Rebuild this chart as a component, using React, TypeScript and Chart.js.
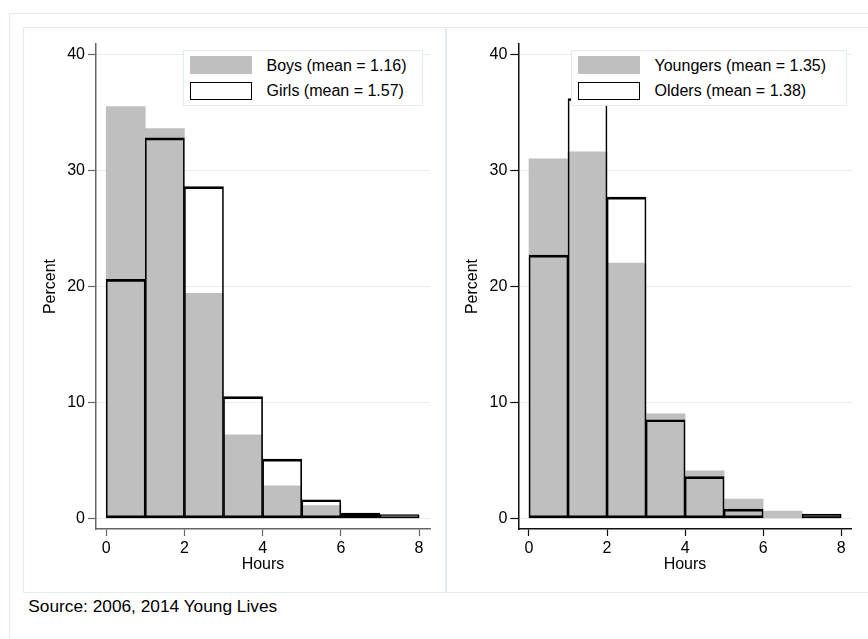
import React, { useEffect, useRef } from "react";
import { Chart, registerables } from "chart.js";

Chart.register(...registerables);

// ---- data ----
const binCenters = [0.5, 1.5, 2.5, 3.5, 4.5, 5.5, 6.5, 7.5];
const boys = [35.5, 33.6, 19.4, 7.2, 2.8, 1.1, 0.35, 0.2];
const girls = [20.6, 32.8, 28.6, 10.5, 5.1, 1.6, 0.45, 0.33];
const youngers = [31.0, 31.6, 22.0, 9.0, 4.1, 1.65, 0.63, 0.2];
const olders = [22.7, 36.2, 27.7, 8.5, 3.6, 0.8, 0.0, 0.36];
const xTicks = [0, 2, 4, 6, 8];
const yTicks = [0, 10, 20, 30, 40];
const leftLabels = ["Boys (mean = 1.16)", "Girls (mean = 1.57)"];
const rightLabels = ["Youngers (mean = 1.35)", "Olders (mean = 1.38)"];

const FONT = "'Liberation Sans', Arial, Helvetica, sans-serif";
const GRAY = "#bfbfbf";
const FRAME = "#e3ecef";
const GRID = "#e6eef0";

type PanelProps = {
  left: number;
  width: number;
  gray: number[];
  outline: number[];
  labels: string[];
  axisColor: string;
  yAxisWidth: number;
  padRight: number;
  xMin: number;
  xMax: number;
  yTitlePad: number;
  legendLeft: number;
  legendWidth: number;
};

function pts(vals: number[]) {
  return binCenters.map((c, i) => ({ x: c, y: vals[i] }));
}

function Panel(p: PanelProps) {
  const ref = useRef<HTMLCanvasElement | null>(null);
  useEffect(() => {
    if (!ref.current) return;
    const font = { family: FONT, size: 16 };
    const chart = new Chart(ref.current, {
      type: "bar",
      data: {
        datasets: [
          {
            label: p.labels[0],
            data: pts(p.gray),
            backgroundColor: GRAY,
            borderWidth: 0,
            order: 2,
            grouped: false,
            barPercentage: 1,
            categoryPercentage: 1,
          } as any,
          {
            label: p.labels[1],
            data: pts(p.outline),
            backgroundColor: "rgba(0,0,0,0)",
            borderColor: "#000",
            borderWidth: { top: 2, left: 1, right: 1, bottom: 2 },
            borderSkipped: false,
            order: 1,
            grouped: false,
            barPercentage: 1,
            categoryPercentage: 1,
          } as any,
        ],
      },
      options: {
        animation: false,
        responsive: false,
        maintainAspectRatio: false,
        layout: { padding: { top: 17, right: p.padRight, left: 0, bottom: 0 } },
        plugins: { legend: { display: false }, tooltip: { enabled: false } },
        scales: {
          x: {
            type: "linear",
            min: p.xMin,
            max: p.xMax,
            offset: false,
            afterBuildTicks: (a: any) => {
              a.ticks = xTicks.map((v) => ({ value: v }));
            },
            afterFit: (a: any) => {
              a.height = 64;
            },
            grid: {
              offset: false,
              drawOnChartArea: false,
              drawTicks: true,
              tickLength: 7,
              tickColor: p.axisColor,
              tickWidth: 1.2,
            },
            border: { display: true, color: p.axisColor, width: 1.5 },
            ticks: { font, color: "#000", padding: 3, maxRotation: 0, autoSkip: false },
            title: {
              display: true,
              text: "Hours",
              font,
              color: "#000",
              padding: { top: 0, bottom: 19.1 },
            },
          },
          y: {
            type: "linear",
            min: -0.92,
            max: 40.9,
            afterBuildTicks: (a: any) => {
              a.ticks = yTicks.map((v) => ({ value: v }));
            },
            afterFit: (a: any) => {
              a.width = p.yAxisWidth;
            },
            grid: {
              color: GRID,
              lineWidth: 1,
              drawTicks: true,
              tickLength: 8,
              tickColor: p.axisColor,
              tickWidth: 1.2,
            },
            border: { display: true, color: p.axisColor, width: 1.5 },
            ticks: { font, color: "#000", padding: 3, autoSkip: false },
            title: {
              display: true,
              text: "Percent",
              font,
              color: "#000",
              padding: { top: p.yTitlePad, bottom: 0 },
            },
          },
        },
      } as any,
    });
    return () => chart.destroy();
  }, []);

  return (
    <>
      <canvas
        ref={ref}
        width={p.width}
        height={566}
        style={{ position: "absolute", left: p.left, top: 27, width: p.width, height: 566 }}
      />
      <div
        style={{
          position: "absolute",
          left: p.left + p.legendLeft,
          top: 50,
          width: p.legendWidth,
          height: 56,
          boxSizing: "border-box",
          border: `1px solid ${FRAME}`,
          background: "#fff",
          fontFamily: FONT,
          fontSize: 16,
          color: "#000",
        }}
      >
        <div style={{ position: "absolute", left: 6, top: 5, width: 62, height: 18, background: GRAY }} />
        <div
          style={{
            position: "absolute",
            left: 6,
            top: 31,
            width: 62,
            height: 18,
            boxSizing: "border-box",
            border: "1.5px solid #000",
            background: "#fff",
          }}
        />
        <div style={{ position: "absolute", left: 82.5, top: 7.2, lineHeight: "16px", whiteSpace: "nowrap" }}>
          {p.labels[0]}
        </div>
        <div style={{ position: "absolute", left: 82.5, top: 32.2, lineHeight: "16px", whiteSpace: "nowrap" }}>
          {p.labels[1]}
        </div>
      </div>
    </>
  );
}

export default function App() {
  return (
    <div
      style={{
        position: "fixed",
        left: 0,
        top: 0,
        width: 868,
        height: 639,
        overflow: "hidden",
        background: "#fff",
      }}
    >
      <div
        style={{
          position: "absolute",
          left: 9,
          top: 13,
          width: 1000,
          height: 1000,
          border: `1px solid ${FRAME}`,
        }}
      />
      <div
        style={{
          position: "absolute",
          left: 23,
          top: 27,
          width: 423,
          height: 566,
          boxSizing: "border-box",
          border: `1px solid ${FRAME}`,
        }}
      />
      <div
        style={{
          position: "absolute",
          left: 446,
          top: 27,
          width: 600,
          height: 566,
          boxSizing: "border-box",
          border: `1px solid ${FRAME}`,
        }}
      />
      <Panel
        left={23}
        width={423}
        gray={boys}
        outline={girls}
        labels={leftLabels}
        axisColor="#666"
        yAxisWidth={73}
        padRight={16}
        xMin={-0.26}
        xMax={8.28}
        yTitlePad={17.8}
        legendLeft={160}
        legendWidth={240}
      />
      <Panel
        left={446}
        width={422}
        gray={youngers}
        outline={olders}
        labels={rightLabels}
        axisColor="#111"
        yAxisWidth={72.3}
        padRight={16.3}
        xMin={-0.274}
        xMax={8.27}
        yTitlePad={16.8}
        legendLeft={125}
        legendWidth={276}
      />
      <div
        style={{
          position: "absolute",
          left: 28.3,
          top: 597.5,
          fontFamily: FONT,
          fontSize: 17.3,
          lineHeight: "17.3px",
          color: "#000",
          whiteSpace: "nowrap",
        }}
      >
        Source: 2006, 2014 Young Lives
      </div>
    </div>
  );
}
